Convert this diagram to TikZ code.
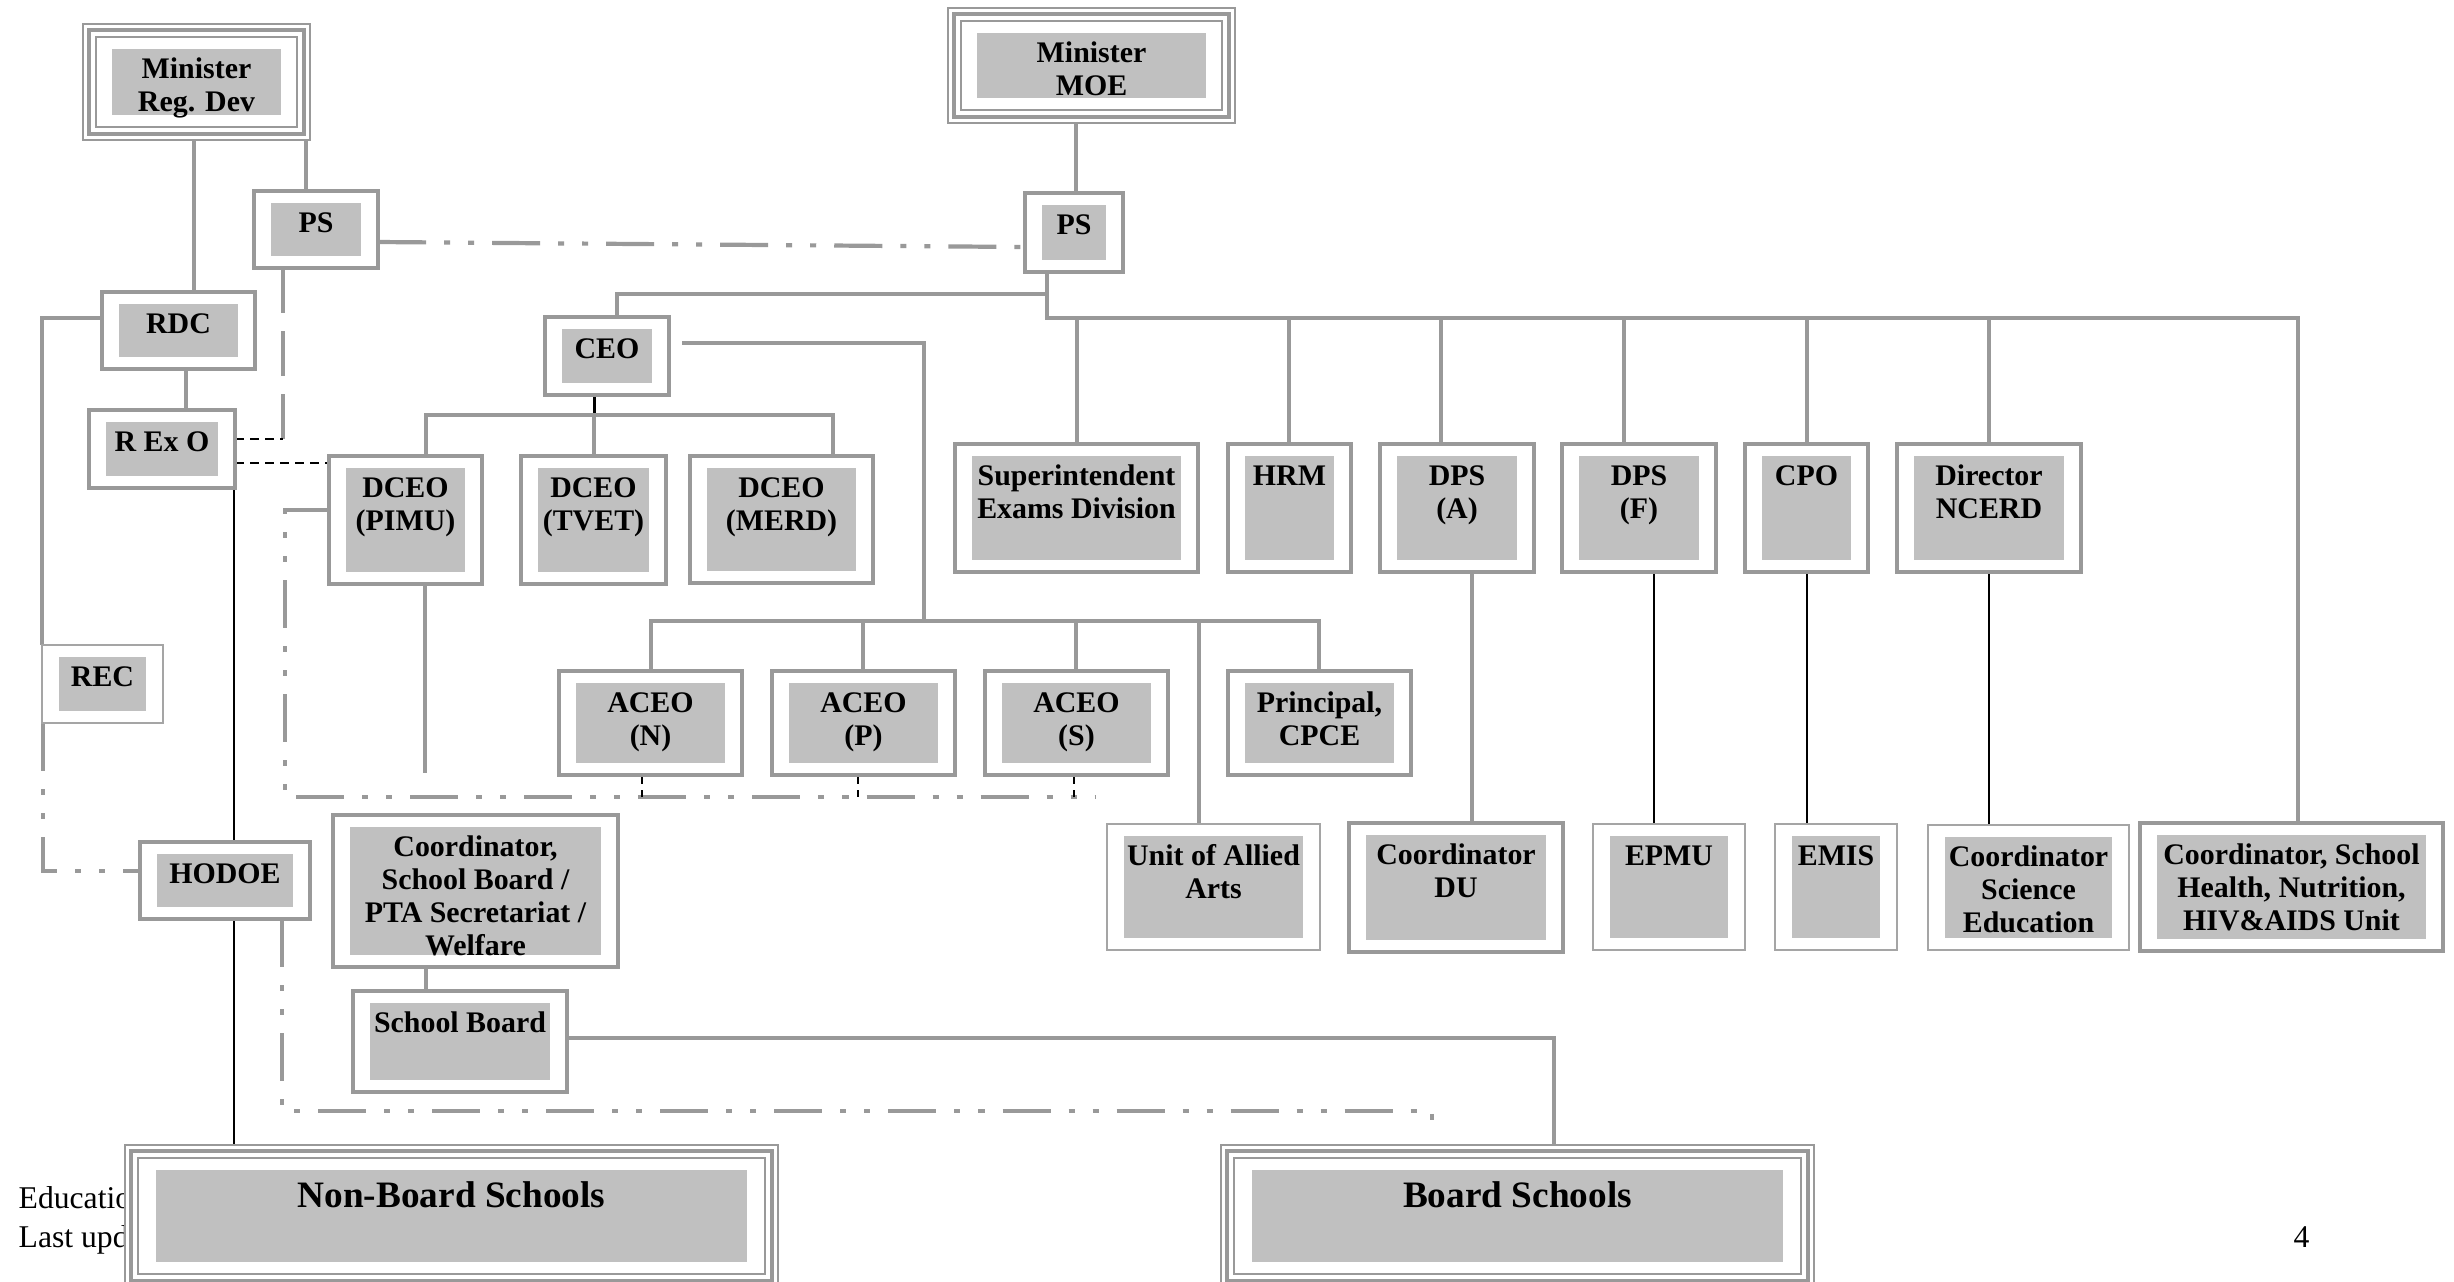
\documentclass[tikz,border=0pt]{standalone}
\usepackage{fontspec}
\setmainfont{Liberation Serif}
\usetikzlibrary{fit,calc}
\definecolor{gl}{RGB}{153,153,153}
\definecolor{gt}{RGB}{165,165,165}
\definecolor{gf}{RGB}{192,192,192}
\newcommand\lblfont{\bfseries\fontsize{8.5}{9.4}\selectfont}
\newcommand\bigfont{\bfseries\fontsize{10.6}{12}\selectfont}
\newcommand\footfont{\fontsize{9}{11}\selectfont}
\pgfdeclarelayer{bg}
\pgfsetlayers{bg,main}
\tikzset{
  fr/.style={draw=gl, line width=0.035cm, fill=white, inner sep=0pt, outer sep=0pt},
  frt/.style={draw=gt, line width=0.016cm, fill=white, inner sep=0pt, outer sep=0pt},
  tfr/.style={draw=gl, line width=0.016cm, fill=white, inner sep=0pt, outer sep=0pt},
  gbox/.style={fill=gf, inner sep=0pt, outer sep=0pt},
  lbl/.style={font=\lblfont, align=center, inner sep=0pt, anchor=north},
  conn/.style={draw=gl, line width=0.04cm},
  thinb/.style={draw=black, line width=0.014cm},
  bdash/.style={draw=black, line width=0.018cm, dash pattern=on 0.09cm off 0.06cm},
  gdd/.style={draw=gl, line width=0.042cm, dash pattern=on 0.48cm off 0.18cm on 0.06cm off 0.18cm on 0.06cm off 0.18cm},
  glong/.style={draw=gl, line width=0.035cm, dash pattern=on 0.45cm off 0.18cm},
  foot/.style={font=\footfont, inner sep=0pt}
}
% name, frame style, x1, y1, x2, y2, text
\newcommand\obox[7]{%
  \node[#2, fit={(#3,#4) (#5,#6)}] (#1) {};
  \node[gbox, fit={([shift={(17,12)}]#1.north west) ([shift={(-17,-12)}]#1.south east)}] (#1-g) {};
  \node[lbl] (#1-t) at ([yshift=-0.03cm]#1-g.north) {\rule{0pt}{0.26cm}#7};
}
% name, x1, y1, x2, y2, gray x inset, text
\newcommand\tbox[7]{%
  \node[tfr, fit={(#2,#3) (#4,#5)}] (#1) {};
  \draw[gl, line width=0.045cm] ([shift={(6,6)}]#1.north west) rectangle ([shift={(-6,-6)}]#1.south east);
  \draw[gl, line width=0.016cm] ([shift={(13,13)}]#1.north west) rectangle ([shift={(-13,-13)}]#1.south east);
  \node[gbox, fit={([shift={(#6,25)}]#1.north west) ([shift={(-#6,-25)}]#1.south east)}] (#1-g) {};
  \node[lbl] (#1-t) at ([yshift=-0.03cm]#1-g.north) {#7};
}
\begin{document}
\begin{tikzpicture}[x=0.01cm, y=-0.01cm]
\useasboundingbox (0,0) rectangle (2454,1281);
\clip (0,0) rectangle (2454,1281);

% ---- boxes ----
\tbox{mrd}{83}{24}{310}{140}{29}{\rule{0pt}{0.26cm}Minister\\Reg. Dev}
\tbox{mmoe}{948}{8}{1235}{123}{29}{\rule{0pt}{0.26cm}Minister\\MOE}
\tbox{nbs}{125}{1145}{778}{1287}{31}{\bigfont\rule{0pt}{0.34cm}Non-Board Schools}
\tbox{bs}{1221}{1145}{1814}{1287}{31}{\bigfont\rule{0pt}{0.34cm}Board Schools}

\obox{psl}{fr}{254}{191}{378}{268}{PS}
\obox{psm}{fr}{1025}{193}{1123}{272}{PS}
\obox{rdc}{fr}{102}{292}{255}{369}{RDC}
\obox{rexo}{fr}{89}{410}{235}{488}{R Ex O}
\obox{ceo}{fr}{545}{317}{669}{395}{CEO}
\obox{pimu}{fr}{329}{456}{482}{584}{DCEO\\(PIMU)}
\obox{tvet}{fr}{521}{456}{666}{584}{DCEO\\(TVET)}
\obox{merd}{fr}{690}{456}{873}{583}{DCEO\\(MERD)}
\obox{sup}{fr}{955}{444}{1198}{572}{Superintendent\\Exams Division}
\obox{hrm}{fr}{1228}{444}{1351}{572}{HRM}
\obox{dpsa}{fr}{1380}{444}{1534}{572}{DPS\\(A)}
\obox{dpsf}{fr}{1562}{444}{1716}{572}{DPS\\(F)}
\obox{cpo}{fr}{1745}{444}{1868}{572}{CPO}
\obox{ncerd}{fr}{1897}{444}{2081}{572}{Director\\NCERD}
\obox{rec}{frt}{42}{645}{163}{723}{REC}
\obox{aceon}{fr}{559}{671}{742}{775}{ACEO\\(N)}
\obox{aceop}{fr}{772}{671}{955}{775}{ACEO\\(P)}
\obox{aceos}{fr}{985}{671}{1168}{775}{ACEO\\(S)}
\obox{prin}{fr}{1228}{671}{1411}{775}{Principal,\\CPCE}
\obox{hodoe}{fr}{140}{842}{310}{919}{HODOE}
\obox{coord}{fr}{333}{815}{618}{967}{Coordinator,\\School Board /\\PTA Secretariat /\\Welfare}
\obox{sb}{fr}{353}{991}{567}{1092}{School Board}
\obox{uaa}{frt}{1107}{824}{1320}{950}{Unit of Allied\\Arts}
\obox{cdu}{fr}{1349}{823}{1563}{952}{Coordinator\\DU}
\obox{epmu}{frt}{1593}{824}{1745}{950}{EPMU}
\obox{emis}{frt}{1775}{824}{1897}{950}{EMIS}
\obox{cse}{frt}{1928}{825}{2129}{950}{Coordinator\\Science\\Education}
\obox{cshn}{fr}{2140}{823}{2443}{951}{Coordinator, School\\Health, Nutrition,\\HIV\&AIDS Unit}

% ---- connectors and footer (behind boxes) ----
\begin{pgfonlayer}{bg}
\fill[white] (0,0) rectangle (2454,1281);
\node[foot, anchor=base west] (f1) at (18,1208) {Educatio};
\node[foot, anchor=base west] (f2) at (18,1247) {Last upd};
\node[foot, anchor=base west] (pg) at (2293,1247) {4};

\coordinate (pj) at (1047,318);
\coordinate (cj) at (1047,294);
\coordinate (aj) at (924,621);
\coordinate (dj) at (594,415);
\coordinate (j1) at (283,439);
\coordinate (pe) at (425,773);
\coordinate (d1) at (285,797);
\coordinate (d1e) at (1095,797);
\coordinate (d2) at (1432,1111);
\coordinate (d2e) at (1432,1133);

\draw[conn] (mrd.south -| 194,0) -- (rdc.north -| 194,0);
\draw[conn] (mrd.south -| 306,0) -- (psl.north -| 306,0);
\draw[conn] (mmoe.south -| 1076,0) -- (psm.north -| 1076,0);
\draw[gdd] (psl.east |- 0,242) -- (psm.west |- 0,247);

\draw[conn] (psm.south -| 1047,0) -- (pj) -| (cshn.north -| 2298,0);
\foreach \x/\n in {1077/sup,1289/hrm,1441/dpsa,1624/dpsf,1807/cpo,1989/ncerd}
  \draw[conn] (\x,318) -- (\n.north -| \x,0);
\draw[conn] (cj) -| (ceo.north -| 617,0);

\draw[conn] ($(ceo.east |- 0,343)+(13,0)$) -| (aj);
\draw[conn] (aceon.north -| 651,0) |- (1319,621) -- (prin.north -| 1319,0);
\foreach \x/\n in {863/aceop,1076/aceos,1199/uaa}
  \draw[conn] (\x,621) -- (\n.north -| \x,0);

\draw[black, line width=0.03cm] (ceo.south -| 594,0) -- (dj);
\draw[conn] (pimu.north -| 426,0) |- (833,415) -- (merd.north -| 833,0);
\draw[conn] (dj) -- (tvet.north -| 594,0);
\draw[conn] (pimu.south -| 425,0) -- (pe);

\draw[conn] (rdc.south -| 186,0) -- (rexo.north -| 186,0);
\draw[conn] (rdc.west |- 0,318) -| (rec.north -| 42,0);

\draw[glong] (psl.south -| 283,0) -- (j1);
\draw[bdash] (rexo.east |- 0,439) -- (j1);
\draw[bdash] (rexo.east |- 0,463) -- (pimu.west |- 0,463);

\draw[thinb] (rexo.south -| 234,0) -- (hodoe.north -| 234,0);
\draw[thinb] (hodoe.south -| 234,0) -- (nbs.north -| 234,0);
\draw[thinb] (dpsf.south -| 1654,0) -- (epmu.north -| 1654,0);
\draw[thinb] (cpo.south -| 1807,0) -- (emis.north -| 1807,0);
\draw[thinb] (ncerd.south -| 1989,0) -- (cse.north -| 1989,0);
\draw[conn] (dpsa.south -| 1472,0) -- (cdu.north -| 1472,0);

\draw[gdd] (rec.south -| 43,0) |- (hodoe.west |- 0,871);
\draw[gdd] (pimu.west |- 0,510) -| (d1) -- (d1e);
\draw[bdash] (aceon.south -| 642,0) -- (642,797);
\draw[bdash] (aceop.south -| 858,0) -- (858,797);
\draw[bdash] (aceos.south -| 1074,0) -- (1074,797);
\draw[gdd] (hodoe.south -| 282,0) |- (d2) -- (d2e);

\draw[conn] (coord.south -| 426,0) -- (sb.north -| 426,0);
\draw[conn] (sb.east |- 0,1038) -| (bs.north -| 1554,0);
\end{pgfonlayer}
\end{tikzpicture}
\end{document}
